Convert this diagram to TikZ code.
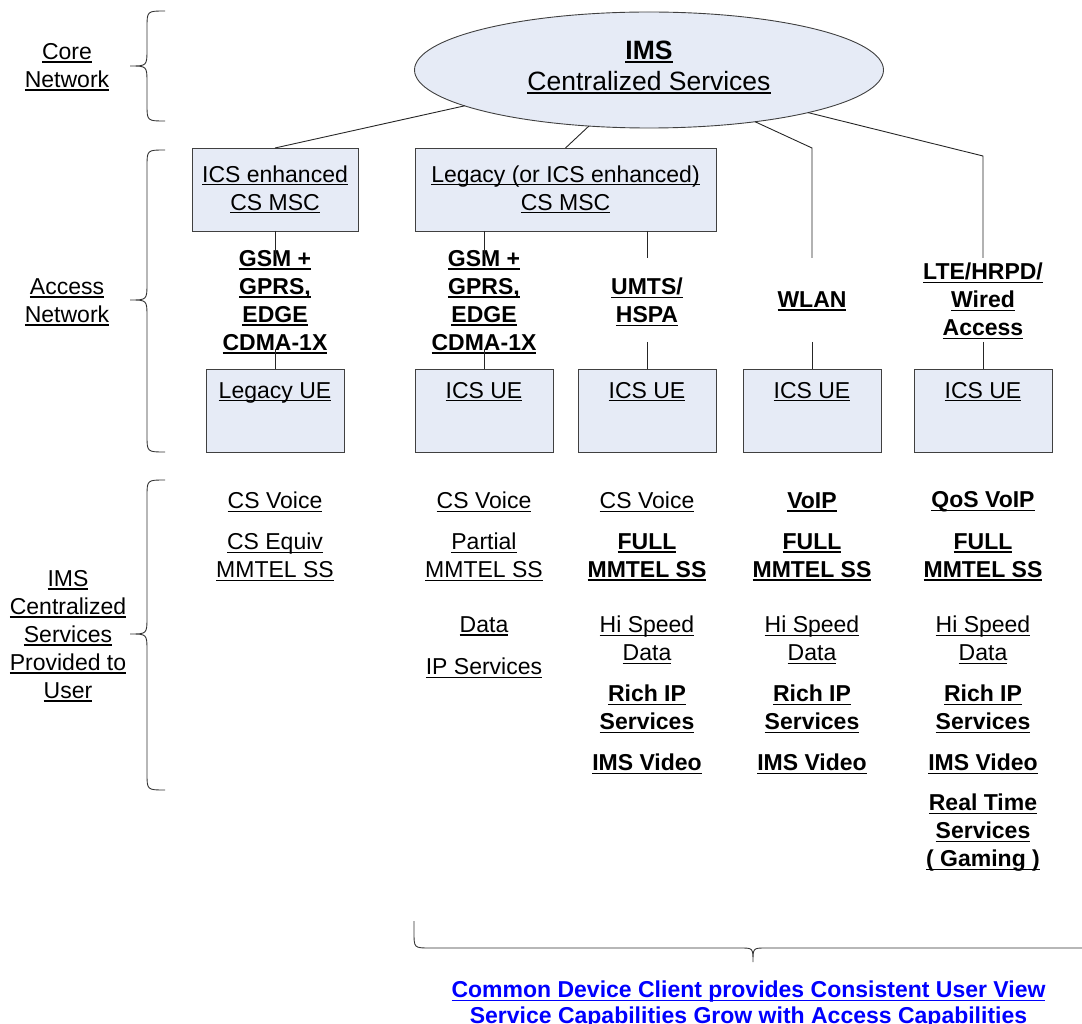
\documentclass[tikz,border=0pt]{standalone}
\usepackage{fontspec}
\setmainfont{Liberation Sans}
\usetikzlibrary{shapes.geometric}
\definecolor{boxfill}{RGB}{230,235,246}
\definecolor{linkblue}{RGB}{0,0,255}
\newcommand{\ulx}[1]{\setbox0\hbox{#1}\rlap{\rule[-3.2pt]{\wd0}{1.4pt}}\box0}
\tikzset{
  txt/.style={align=center, inner sep=0pt, outer sep=0pt, yshift=-2pt, font=\fontsize{23}{28}\selectfont},
  btxt/.style={align=center, inner sep=0pt, outer sep=0pt, yshift=-2pt, font=\fontsize{23}{28}\selectfont\bfseries},
  box/.style={draw=black!75, fill=boxfill, line width=0.9pt, inner sep=0pt, outer sep=0pt},
  boxtext/.style={align=center, font=\fontsize{23}{28}\selectfont},
  uebox/.style={box, boxtext, minimum width=138pt, text height=29pt, text depth=54pt, anchor=north},
  mscbox/.style={box, boxtext, minimum height=83pt},
  link/.style={draw=black!85, line width=0.9pt},
  bracepath/.style={draw=black!80, line width=0.9pt},
}
\begin{document}
\begin{tikzpicture}[x=1pt,y=-1pt]
\useasboundingbox (0,0) rectangle (1082,1024);

% ---------- core ----------
\node[ellipse, box, minimum width=469pt, minimum height=116pt] (ims) at (649,70) {};
\node[txt, font=\fontsize{26.5}{31}\selectfont] (imstext) at (649,65.5)
  {\textbf{\ulx{IMS}}\\\ulx{Centralized Services}};

% ---------- access boxes ----------
\node[mscbox, minimum width=166pt] (msca) at (275,189.5) {\ulx{ICS enhanced}\\\ulx{CS MSC}};
\node[mscbox, minimum width=301pt] (mscb) at (565.5,189.5) {\ulx{Legacy (or ICS enhanced)}\\\ulx{CS MSC}};

\node[uebox] (ue1) at (275,369) {\ulx{Legacy UE}};
\node[uebox] (ue2) at (484,369) {\ulx{ICS UE}};
\node[uebox] (ue3) at (647,369) {\ulx{ICS UE}};
\node[uebox] (ue4) at (812,369) {\ulx{ICS UE}};
\node[uebox] (ue5) at (983,369) {\ulx{ICS UE}};

% access technology labels
\node[btxt] (acc1) at (275,300) {\ulx{GSM +}\\\ulx{GPRS,}\\\ulx{EDGE}\\\ulx{CDMA-1X}};
\node[btxt] (acc2) at (484,300) {\ulx{GSM +}\\\ulx{GPRS,}\\\ulx{EDGE}\\\ulx{CDMA-1X}};
\node[btxt] (acc3) at (647,300) {\ulx{UMTS/}\\\ulx{HSPA}};
\node[btxt] (acc4) at (812,299) {\ulx{WLAN}};
\node[btxt] (acc5) at (983,299) {\ulx{LTE/HRPD/}\\\ulx{Wired}\\\ulx{Access}};

% connector end points
\coordinate (a1) at (275,255); \coordinate (b1) at (275,349);
\coordinate (a2) at (484,255); \coordinate (b2) at (484,349);
\coordinate (a3) at (647,258); \coordinate (b3) at (647,342);
\coordinate (k4) at (812,148); \coordinate (a4) at (812,258); \coordinate (b4) at (812,342);
\coordinate (k5) at (983,156); \coordinate (a5) at (983,258); \coordinate (b5) at (983,342);

\draw[link] (ims.191.8) -- (msca.north);
\draw[link] (ims.223.1) -- (mscb.north);
\draw[link] (ims.334.9) -- (k4) -- (a4);
\draw[link] (ims.345.6) -- (k5) -- (a5);
\draw[link] (msca.south) -- (a1);
\draw[link] (b1) -- (ue1.north);
\draw[link] (mscb.south -| ue2.north) -- (a2);
\draw[link] (b2) -- (ue2.north);
\draw[link] (mscb.south -| ue3.north) -- (a3);
\draw[link] (b3) -- (ue3.north);
\draw[link] (b4) -- (ue4.north);
\draw[link] (b5) -- (ue5.north);

% ---------- services ----------
\node[txt] (s1a) at (275,500) {\ulx{CS Voice}};
\node[txt] (s1b) at (275,555) {\ulx{CS Equiv}\\\ulx{MMTEL SS}};

\node[txt] (s2a) at (484,500) {\ulx{CS Voice}};
\node[txt] (s2b) at (484,555) {\ulx{Partial}\\\ulx{MMTEL SS}};
\node[txt] (s2c) at (484,624) {\ulx{Data}};
\node[txt] (s2d) at (484,666) {\ulx{IP Services}};

\node[txt]  (s3a) at (647,500) {\ulx{CS Voice}};
\node[btxt] (s3b) at (647,555) {\ulx{FULL}\\\ulx{MMTEL SS}};
\node[txt]  (s3c) at (647,638) {\ulx{Hi Speed}\\\ulx{Data}};
\node[btxt] (s3d) at (647,707) {\ulx{Rich IP}\\\ulx{Services}};
\node[btxt] (s3e) at (647,762) {\ulx{IMS Video}};

\node[btxt] (s4a) at (812,500) {\ulx{VoIP}};
\node[btxt] (s4b) at (812,555) {\ulx{FULL}\\\ulx{MMTEL SS}};
\node[txt]  (s4c) at (812,638) {\ulx{Hi Speed}\\\ulx{Data}};
\node[btxt] (s4d) at (812,707) {\ulx{Rich IP}\\\ulx{Services}};
\node[btxt] (s4e) at (812,762) {\ulx{IMS Video}};

\node[btxt] (s5a) at (983,500) {\ulx{QoS VoIP}};
\node[btxt] (s5b) at (983,555) {\ulx{FULL}\\\ulx{MMTEL SS}};
\node[txt]  (s5c) at (983,638) {\ulx{Hi Speed}\\\ulx{Data}};
\node[btxt] (s5d) at (983,707) {\ulx{Rich IP}\\\ulx{Services}};
\node[btxt] (s5e) at (983,762) {\ulx{IMS Video}};
\node[btxt] (s5f) at (983,831) {\ulx{Real Time}\\\ulx{Services}\\\ulx{( Gaming )}};

% ---------- left labels and braces ----------
\node[txt] (lcore) at (67,65) {\ulx{Core}\\\ulx{Network}};
\node[txt] (lacc) at (67,300) {\ulx{Access}\\\ulx{Network}};
\node[txt] (lsvc) at (68,634) {\ulx{IMS}\\\ulx{Centralized}\\\ulx{Services}\\\ulx{Provided to}\\\ulx{User}};

\draw[bracepath] (165,11) .. controls (147,11) .. (147,28) -- (147,49)
  .. controls (147,66) .. (130,66) .. controls (147,66) .. (147,83) -- (147,104)
  .. controls (147,121) .. (165,121);
\draw[bracepath] (165,150) .. controls (147,150) .. (147,167) -- (147,283)
  .. controls (147,300) .. (130,300) .. controls (147,300) .. (147,317) -- (147,435)
  .. controls (147,452) .. (165,452);
\draw[bracepath] (165,480) .. controls (147,480) .. (147,497) -- (147,617)
  .. controls (147,634) .. (130,634) .. controls (147,634) .. (147,651) -- (147,773)
  .. controls (147,790) .. (165,790);

% ---------- bottom brace and note ----------
\draw[bracepath] (414,921) -- (414,932) .. controls (414,948) .. (430,948) -- (740,948)
  .. controls (753,948) .. (753,962) .. controls (753,948) .. (766,948) -- (1090,948);
\node[btxt, text=linkblue, font=\fontsize{23}{26}\selectfont\bfseries] (note) at (748.5,1003)
  {\ulx{Common Device Client provides Consistent User View}\\\ulx{Service Capabilities Grow with Access Capabilities}};
\end{tikzpicture}
\end{document}
